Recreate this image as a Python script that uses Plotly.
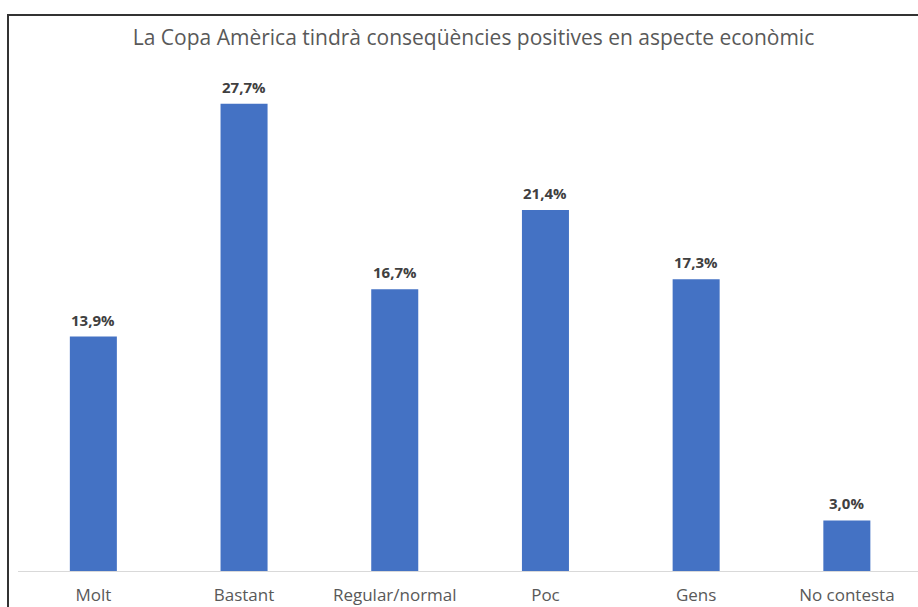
import plotly.graph_objects as go

categories = ["Molt", "Bastant", "Regular/normal", "Poc", "Gens", "No contesta"]
values = [13.9, 27.7, 16.7, 21.4, 17.3, 3.0]
labels = ["13,9%", "27,7%", "16,7%", "21,4%", "17,3%", "3,0%"]
title_text = "La Copa Amèrica tindrà conseqüències positives en aspecte econòmic"

W, H = 918, 607
L, R, T, B = 18, 0, 65, 36
plot_w = W - L - R
plot_h = H - T - B
cat_px = 150.7

xs = list(range(len(categories)))

fig = go.Figure(go.Bar(
    x=xs,
    y=values,
    marker=dict(color="#4472C4", line=dict(width=0)),
    width=0.312,
    hoverinfo="skip",
))

annotations = [
    dict(x=x, y=v, text=t, xref="x", yref="y", showarrow=False,
         yanchor="bottom", yshift=5,
         font=dict(family="Open Sans", size=15, color="#404040", weight="bold"))
    for x, v, t in zip(xs, values, labels)
]

fig.update_layout(
    width=W, height=H,
    margin=dict(l=L, r=R, t=T, b=B, autoexpand=False),
    paper_bgcolor="white", plot_bgcolor="white",
    showlegend=False,
    annotations=annotations,
    title=dict(text=title_text, x=473.5 / W, xanchor="center",
               y=1 - 38 / H, yanchor="middle",
               font=dict(family="Open Sans", size=21, color="#595959")),
    xaxis=dict(
        tickmode="array", tickvals=xs, ticktext=categories,
        range=[-0.5, -0.5 + plot_w / cat_px],
        showgrid=False, zeroline=False, showline=True, linecolor="#d9d9d9", linewidth=1,
        ticks="", ticklabelstandoff=9,
        tickfont=dict(family="Open Sans", size=17, color="#595959"),
        automargin=False,
    ),
    yaxis=dict(range=[0, 30], visible=False, showgrid=False, zeroline=False, automargin=False),
    shapes=[dict(type="rect", xref="paper", yref="paper",
                 x0=(8 - L) / plot_w, x1=1.1,
                 y0=-0.2, y1=1 + (T - 15) / plot_h,
                 line=dict(color="#333333", width=2), fillcolor="rgba(0,0,0,0)", layer="below")],
)

fig.write_html("out.html", config={"displayModeBar": False},
               post_script="document.body.style.margin='0';document.body.style.overflow='hidden';")
